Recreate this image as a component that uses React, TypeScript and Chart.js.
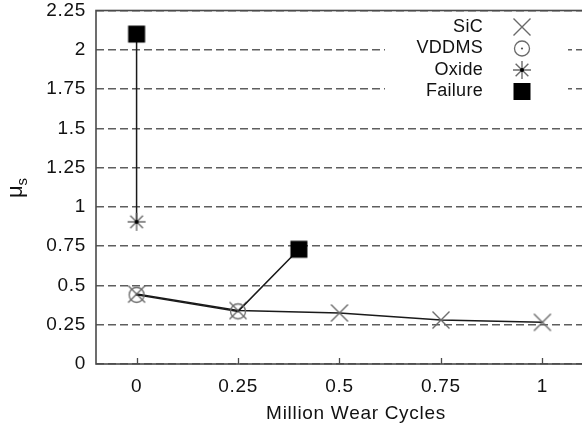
import { useEffect, useRef } from "react";
import { Chart, registerables } from "chart.js";

Chart.register(...registerables);

// Axis ticks
const cycleTicks = [0, 0.25, 0.5, 0.75, 1];
const muTicks = [0, 0.25, 0.5, 0.75, 1, 1.25, 1.5, 1.75, 2, 2.25];

// Static friction coefficient vs. wear cycles (millions)
const sicCycles = [0, 0.25, 0.5, 0.75, 1];
const sicMu = [0.445, 0.34, 0.325, 0.28, 0.265];
const vddmsCycles = [0, 0.25];
const vddmsMu = [0.44, 0.335];
const oxideCycles = [0];
const oxideMu = [0.905];
const failureCycles = [0, 0.4];
const failureMu = [2.1, 0.73];

const seriesNames = ["SiC", "VDDMS", "Oxide", "Failure"];

type Marker = "cross" | "ring" | "star" | "square";
const seriesMarkers: Marker[] = ["cross", "ring", "star", "square"];

const FONT = "'Liberation Sans', Arial, Helvetica, sans-serif";
const CANVAS_W = 600;
const CANVAS_H = 431;

function drawMarker(ctx: CanvasRenderingContext2D, kind: Marker, x: number, y: number) {
  ctx.save();
  ctx.translate(x, y);
  if (kind === "cross") {
    ctx.strokeStyle = "#6a6a6a";
    ctx.lineWidth = 1.4;
    ctx.beginPath();
    ctx.moveTo(-8.5, -8.5);
    ctx.lineTo(8.5, 8.5);
    ctx.moveTo(-8.5, 8.5);
    ctx.lineTo(8.5, -8.5);
    ctx.stroke();
  } else if (kind === "ring") {
    ctx.strokeStyle = "#6a6a6a";
    ctx.lineWidth = 1.3;
    ctx.beginPath();
    ctx.arc(0, 0, 7.5, 0, Math.PI * 2);
    ctx.stroke();
    ctx.fillStyle = "#555";
    ctx.beginPath();
    ctx.arc(0, 0, 1.1, 0, Math.PI * 2);
    ctx.fill();
  } else if (kind === "star") {
    ctx.strokeStyle = "#6a6a6a";
    ctx.lineWidth = 1.4;
    ctx.beginPath();
    for (let k = 0; k < 4; k++) {
      const a = (k * Math.PI) / 4;
      const dx = Math.cos(a) * 9;
      const dy = Math.sin(a) * 9;
      ctx.moveTo(-dx, -dy);
      ctx.lineTo(dx, dy);
    }
    ctx.stroke();
    ctx.fillStyle = "#000";
    ctx.beginPath();
    ctx.arc(0, 0, 2, 0, Math.PI * 2);
    ctx.fill();
  } else {
    ctx.fillStyle = "#000";
    ctx.fillRect(-8.5, -8.5, 17, 17);
  }
  ctx.restore();
}

function markerImage(kind: Marker): HTMLCanvasElement {
  const c = document.createElement("canvas");
  c.width = 24;
  c.height = 24;
  const g = c.getContext("2d")!;
  drawMarker(g, kind, 12, 12);
  return c;
}

const pts = (xs: number[], ys: number[]) => xs.map((x, i) => ({ x, y: ys[i] }));

// Frame, inward x ticks, axis titles and legend drawn on top of the plot
const decorations = {
  id: "decorations",
  beforeDraw(chart: any) {
    chart.ctx.letterSpacing = "0.7px";
  },
  afterDraw(chart: any) {
    const ctx: CanvasRenderingContext2D = chart.ctx;
    const { left, top, right, bottom } = chart.chartArea;
    const xs = chart.scales.x;
    ctx.save();

    // plot frame
    ctx.strokeStyle = "#4a4a4a";
    ctx.lineWidth = 1.6;
    ctx.strokeRect(left, top, right - left, bottom - top);

    // inward tick marks on the x axis
    ctx.lineWidth = 1.3;
    ctx.beginPath();
    cycleTicks.forEach((v) => {
      const px = Math.round(xs.getPixelForValue(v)) + 0.5;
      ctx.moveTo(px, bottom);
      ctx.lineTo(px, bottom - 6);
    });
    ctx.stroke();

    // x axis title
    ctx.fillStyle = "#111";
    ctx.font = `19px ${FONT}`;
    ctx.textAlign = "center";
    ctx.textBaseline = "middle";
    ctx.fillText("Million Wear Cycles", 356, 414);

    // y axis title: mu with subscript s, rotated
    ctx.save();
    ctx.translate(22, 198);
    ctx.rotate(-Math.PI / 2);
    ctx.textAlign = "left";
    ctx.textBaseline = "alphabetic";
    ctx.font = `22px ${FONT}`;
    ctx.fillText("μ", 0, 0);
    const mw = ctx.measureText("μ").width;
    ctx.font = `15px ${FONT}`;
    ctx.fillText("s", mw - 1, 5);
    ctx.restore();

    // legend
    ctx.fillStyle = "#fff";
    ctx.fillRect(385, 12, 183, 92);
    ctx.fillStyle = "#111";
    ctx.font = `18px ${FONT}`;
    ctx.letterSpacing = "0.3px";
    ctx.textAlign = "right";
    ctx.textBaseline = "middle";
    seriesNames.forEach((name, i) => {
      const y = 27 + i * 21.5;
      ctx.fillText(name, 483, y);
      drawMarker(ctx, seriesMarkers[i], 522, y);
    });
    ctx.restore();
  },
};

export default function App() {
  const ref = useRef<HTMLCanvasElement | null>(null);

  useEffect(() => {
    if (!ref.current) return;
    const crossImg = markerImage("cross");
    const ringImg = markerImage("ring");
    const starImg = markerImage("star");
    const squareImg = markerImage("square");

    const lineColor = "#1a1a1a";

    const chart = new Chart(ref.current, {
      type: "scatter",
      data: {
        datasets: [
          {
            label: "Failure",
            data: pts(failureCycles, failureMu),
            showLine: false,
            pointStyle: squareImg,
            pointRadius: 9,
            order: 0,
          },
          {
            label: "VDDMS",
            data: [...pts(vddmsCycles, vddmsMu), { x: failureCycles[1], y: failureMu[1] }],
            showLine: true,
            borderColor: lineColor,
            borderWidth: 1.5,
            pointStyle: ringImg,
            pointRadius: (c: any) => (c.dataIndex < vddmsCycles.length ? 9 : 0),
            order: 1,
          },
          {
            label: "SiC",
            data: pts(sicCycles, sicMu),
            showLine: true,
            borderColor: lineColor,
            borderWidth: 1.5,
            pointStyle: crossImg,
            pointRadius: 9,
            order: 2,
          },
          {
            label: "Oxide",
            data: [...pts(oxideCycles, oxideMu), { x: failureCycles[0], y: failureMu[0] }],
            showLine: true,
            borderColor: lineColor,
            borderWidth: 1.5,
            pointStyle: starImg,
            pointRadius: (c: any) => (c.dataIndex < oxideCycles.length ? 9 : 0),
            order: 3,
          },
        ] as any,
      },
      options: {
        animation: false,
        responsive: false,
        devicePixelRatio: 1,
        layout: { padding: { left: 0, top: 9, right: CANVAS_W - 583, bottom: 0 } },
        plugins: { legend: { display: false }, tooltip: { enabled: false } },
        scales: {
          x: {
            type: "linear",
            min: -0.1,
            max: 1.1,
            afterBuildTicks: (s: any) => {
              s.ticks = cycleTicks.map((v) => ({ value: v }));
            },
            afterFit: (s: any) => {
              s.height = CANVAS_H - 364;
              s.paddingLeft = 0;
              s.paddingRight = 0;
            },
            grid: { display: false },
            border: { display: false },
            ticks: {
              padding: 3,
              color: "#111",
              font: { family: FONT, size: 19 },
              callback: (v: any) => String(v),
            },
          },
          y: {
            type: "linear",
            min: 0,
            max: 2.25,
            afterBuildTicks: (s: any) => {
              s.ticks = muTicks.map((v) => ({ value: v }));
            },
            afterFit: (s: any) => {
              s.width = 96;
              s.paddingTop = 0;
              s.paddingBottom = 0;
            },
            grid: { color: "#5e5e5e", lineWidth: 1.5, drawTicks: false },
            border: { display: false, dash: [8, 4] },
            ticks: {
              padding: 10,
              color: "#111",
              font: { family: FONT, size: 19 },
              callback: (v: any) => String(v),
            },
          },
        },
      },
      plugins: [decorations],
    });

    return () => chart.destroy();
  }, []);

  return (
    <div
      style={{
        position: "fixed",
        left: 0,
        top: 0,
        width: 582,
        height: CANVAS_H,
        overflow: "hidden",
        background: "#fff",
      }}
    >
      <canvas ref={ref} width={CANVAS_W} height={CANVAS_H} style={{ display: "block" }} />
    </div>
  );
}
